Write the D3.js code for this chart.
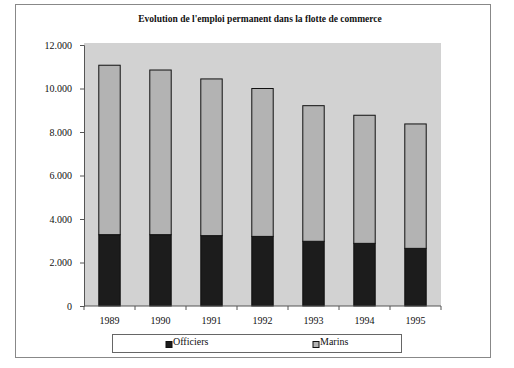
<!DOCTYPE html>
<html lang="fr">
  <head>
    <meta charset="utf-8">
    <script src="https://d3js.org/d3.v7.min.js"></script>
    <style>
      body { margin: 0; background: #fff; }
    </style>
  </head>
  <body>
    <svg width="514" height="368"></svg>
    <script type="text/javascript">
      // Data
      var years = ["1989", "1990", "1991", "1992", "1993", "1994", "1995"];
      var officiers = [3280, 3280, 3235, 3200, 2975, 2880, 2650];
      var marins = [7790, 7570, 7205, 6800, 6235, 5890, 5720];
      var yTicks = [0, 2000, 4000, 6000, 8000, 10000, 12000];
      var seriesNames = ["Officiers", "Marins"];

      var FONT = "'Liberation Serif', 'Times New Roman', 'DejaVu Serif', serif";
      var svg = d3.select("svg");
      var margin = {top: 45, left: 84, right: 73, bottom: 62};
      var width = 514, height = 368;
      var innerWidth = width - margin.left - margin.right;
      var innerHeight = height - margin.top - margin.bottom;

      // outer frame
      svg.append("rect")
        .attr("x", 15.5).attr("y", 4.5)
        .attr("width", 475).attr("height", 353)
        .attr("fill", "#fff")
        .attr("stroke", "#888");

      svg.append("text")
        .attr("x", 260).attr("y", 22)
        .attr("text-anchor", "middle")
        .attr("font-weight", "bold")
        .attr("font-size", "9.5px")
        .text("Evolution de l'emploi permanent dans la flotte de commerce");

      var g = svg.append("g")
        .attr("transform", `translate(${margin.left},${margin.top})`);

      var xScale = d3.scaleBand()
        .domain(years)
        .range([0, innerWidth])
        .paddingInner(0.58)
        .paddingOuter(0.29);
      var yScale = d3.scaleLinear()
        .domain([0, 12000])
        .range([innerHeight, 0]);

      // plot area
      g.append("rect")
        .attr("x", 0).attr("y", -2)
        .attr("width", innerWidth).attr("height", innerHeight + 2)
        .attr("fill", "#d2d2d2");

      var stackData = years.map(function(y, i) {
        return {year: y, Officiers: officiers[i], Marins: marins[i]};
      });
      var series = d3.stack().keys(seriesNames)(stackData);
      var colors = {Officiers: "#1c1c1c", Marins: "#b3b3b3"};

      g.selectAll("g.series")
        .data(series)
        .join("g")
        .attr("class", "series")
        .attr("fill", function(d) { return colors[d.key]; })
        .selectAll("rect")
        .data(function(d) { return d; })
        .join("rect")
        .attr("x", function(d) { return xScale(d.data.year); })
        .attr("y", function(d) { return yScale(d[1]); })
        .attr("width", xScale.bandwidth())
        .attr("height", function(d) { return yScale(d[0]) - yScale(d[1]); })
        .attr("stroke", "#111")
        .attr("stroke-width", 1);

      // y axis
      var yAxis = d3.axisLeft(yScale)
        .tickValues(yTicks)
        .tickSize(4)
        .tickFormat(function(d) { return d === 0 ? "0" : d3.format(",")(d).replace(",", "."); });
      var ya = g.append("g").call(yAxis);
      ya.attr("font-family", null).attr("font-size", null);
      ya.selectAll("text").attr("font-size", "10px").attr("x", -12).attr("fill", "#111");
      ya.selectAll("line, path").attr("stroke", "#555");

      // x axis, ticks between categories
      var xa = g.append("g").attr("transform", `translate(0,${innerHeight})`);
      xa.append("line").attr("x1", 0).attr("x2", innerWidth).attr("stroke", "#555");
      var step = xScale.step();
      d3.range(years.length + 1).forEach(function(i) {
        var x = xScale(years[0]) - xScale.paddingOuter() * step + i * step;
        xa.append("line").attr("x1", x).attr("x2", x).attr("y1", 0).attr("y2", 4).attr("stroke", "#555");
      });
      xa.selectAll("text.year")
        .data(years)
        .join("text")
        .attr("class", "year")
        .attr("x", function(d) { return xScale(d) + xScale.bandwidth() / 2; })
        .attr("y", 18)
        .attr("text-anchor", "middle")
        .attr("font-size", "10px")
        .text(function(d) { return d; });

      // legend
      var legend = svg.append("g");
      legend.append("rect")
        .attr("x", 112.5).attr("y", 334.5)
        .attr("width", 289).attr("height", 18)
        .attr("fill", "#fff").attr("stroke", "#666");
      var legendX = [166, 313];
      seriesNames.forEach(function(name, i) {
        legend.append("rect")
          .attr("x", legendX[i]).attr("y", 341.5)
          .attr("width", 6).attr("height", 6)
          .attr("fill", colors[name]).attr("stroke", "#111");
        legend.append("text")
          .attr("x", legendX[i] + 7).attr("y", 345)
          .attr("font-size", "10px")
          .text(name);
      });

      svg.selectAll("text").attr("font-family", FONT).attr("fill", "#111");
    </script>
  </body>
</html>
